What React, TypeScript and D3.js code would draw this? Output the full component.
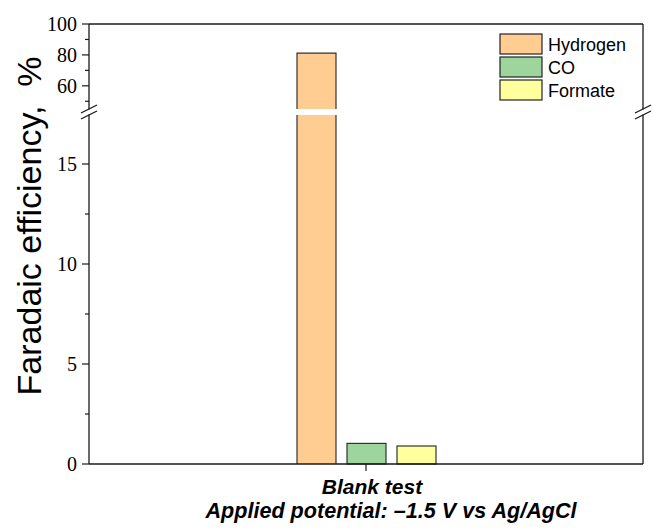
import React from "react";
import * as d3 from "d3";

const categories = ["Blank test"];
const seriesNames = ["Hydrogen", "CO", "Formate"];
const seriesValues = [81.2, 1.03, 0.9];
const seriesColors = ["#FFCC91", "#9ED59C", "#FFFF9E"];
const lowMajorTicks = [0, 5, 10, 15];
const lowMinorTicks = [2.5, 7.5, 12.5];
const highMajorTicks = [60, 80, 100];
const highMinorTicks = [50, 70, 90];
const yTitle = "Faradaic efficiency,  %";
const xLine2 = "Applied potential: \u20131.5 V vs Ag/AgCl";

const W = 653;
const H = 529;
const left = 89;
const right = 643;
const top = 24;
const bottom = 464;
const breakLowTop = 115;
const breakHighBottom = 109;

export default function App() {
  const x = d3.scaleBand<string>().domain(categories).range([left, right]);
  const c = (x(categories[0]) as number) + x.bandwidth() / 2;
  const inner = d3
    .scaleBand<string>()
    .domain(seriesNames)
    .range([c - 74.5, c + 75.5])
    .paddingInner(0.22)
    .paddingOuter(0.11);
  const yLow = d3.scaleLinear().domain([0, 17.45]).range([bottom, breakLowTop]);
  const yHigh = d3.scaleLinear().domain([45, 100]).range([breakHighBottom, top]);
  const lowMax = 17.45;

  const serif = "'Liberation Serif', 'Times New Roman', serif";
  const sans = "'Liberation Sans', Arial, sans-serif";
  const stroke = "#1a1a1a";

  const breakMarks = (ax: number) => (
    <g stroke={stroke} strokeWidth={1.3}>
      <line x1={ax} y1={top} x2={ax} y2={breakHighBottom + 0.5} />
      <line x1={ax} y1={breakLowTop - 0.5} x2={ax} y2={bottom} />
      <line x1={ax - 8} y1={breakHighBottom + 4} x2={ax + 8} y2={breakHighBottom - 4} />
      <line x1={ax - 8} y1={breakLowTop + 4} x2={ax + 8} y2={breakLowTop - 4} />
    </g>
  );

  return (
    <svg width={W} height={H} style={{ position: "absolute", left: 0, top: 0, background: "#fff" }}>
      {/* bars */}
      {seriesNames.map((s, i) => {
        const v = seriesValues[i];
        const bx = inner(s) as number;
        const bw = inner.bandwidth();
        if (v <= lowMax) {
          return (
            <rect key={s} x={bx} y={yLow(v)} width={bw} height={yLow(0) - yLow(v)} fill={seriesColors[i]} stroke="#333" strokeWidth={1.2} />
          );
        }
        return (
          <g key={s}>
            <rect x={bx} y={yLow(lowMax)} width={bw} height={yLow(0) - yLow(lowMax)} fill={seriesColors[i]} />
            <line x1={bx} y1={yLow(lowMax)} x2={bx} y2={yLow(0)} stroke="#333" strokeWidth={1.2} />
            <line x1={bx + bw} y1={yLow(lowMax)} x2={bx + bw} y2={yLow(0)} stroke="#333" strokeWidth={1.2} />
            <rect x={bx} y={yHigh(v)} width={bw} height={yHigh(45) - yHigh(v)} fill={seriesColors[i]} />
            <path d={`M${bx},${yHigh(45)}V${yHigh(v)}H${bx + bw}V${yHigh(45)}`} fill="none" stroke="#333" strokeWidth={1.2} />
          </g>
        );
      })}

      {/* frame */}
      <line x1={left} y1={top} x2={right} y2={top} stroke={stroke} strokeWidth={1.3} />
      <line x1={left} y1={bottom} x2={right} y2={bottom} stroke={stroke} strokeWidth={1.3} />
      {breakMarks(left)}
      {breakMarks(right)}

      {/* y ticks */}
      <g stroke={stroke} strokeWidth={1.2}>
        {lowMajorTicks.map((t) => (
          <line key={"lM" + t} x1={left - 7} x2={left} y1={yLow(t)} y2={yLow(t)} />
        ))}
        {lowMinorTicks.map((t) => (
          <line key={"lm" + t} x1={left - 4} x2={left} y1={yLow(t)} y2={yLow(t)} />
        ))}
        {highMajorTicks.map((t) => (
          <line key={"hM" + t} x1={left - 7} x2={left} y1={yHigh(t)} y2={yHigh(t)} />
        ))}
        {highMinorTicks.map((t) => (
          <line key={"hm" + t} x1={left - 4} x2={left} y1={yHigh(t)} y2={yHigh(t)} />
        ))}
        <line x1={c} x2={c} y1={bottom} y2={bottom + 7} />
      </g>
      <g fontFamily={serif} fontSize={20} fill="#000" textAnchor="end">
        {lowMajorTicks.map((t) => (
          <text key={"lt" + t} x={left - 12} y={yLow(t)} dy="0.34em">
            {t}
          </text>
        ))}
        {highMajorTicks.map((t) => (
          <text key={"ht" + t} x={left - 12} y={yHigh(t)} dy="0.34em">
            {t}
          </text>
        ))}
      </g>

      {/* y title */}
      <text
        transform={`translate(41,226) rotate(-90)`}
        textAnchor="middle"
        fontFamily={sans}
        fontSize={34}
        fill="#000"
        style={{ whiteSpace: "pre" }}
      >
        {yTitle}
      </text>

      {/* x labels */}
      <text x={c + 6} y={494} textAnchor="middle" fontFamily={sans} fontSize={21} fontWeight="bold" fontStyle="italic" fill="#000">
        {categories[0]}
      </text>
      <text x={391} y={518} textAnchor="middle" fontFamily={sans} fontSize={21.6} fontWeight="bold" fontStyle="italic" fill="#000">
        {xLine2}
      </text>

      {/* legend */}
      {seriesNames.map((s, i) => (
        <g key={"lg" + s}>
          <rect x={500} y={34 + i * 23} width={42} height={20} fill={seriesColors[i]} stroke="#222" strokeWidth={1.2} />
          <text x={548} y={51 + i * 23} fontFamily={sans} fontSize={18} fill="#000">
            {s}
          </text>
        </g>
      ))}
    </svg>
  );
}
